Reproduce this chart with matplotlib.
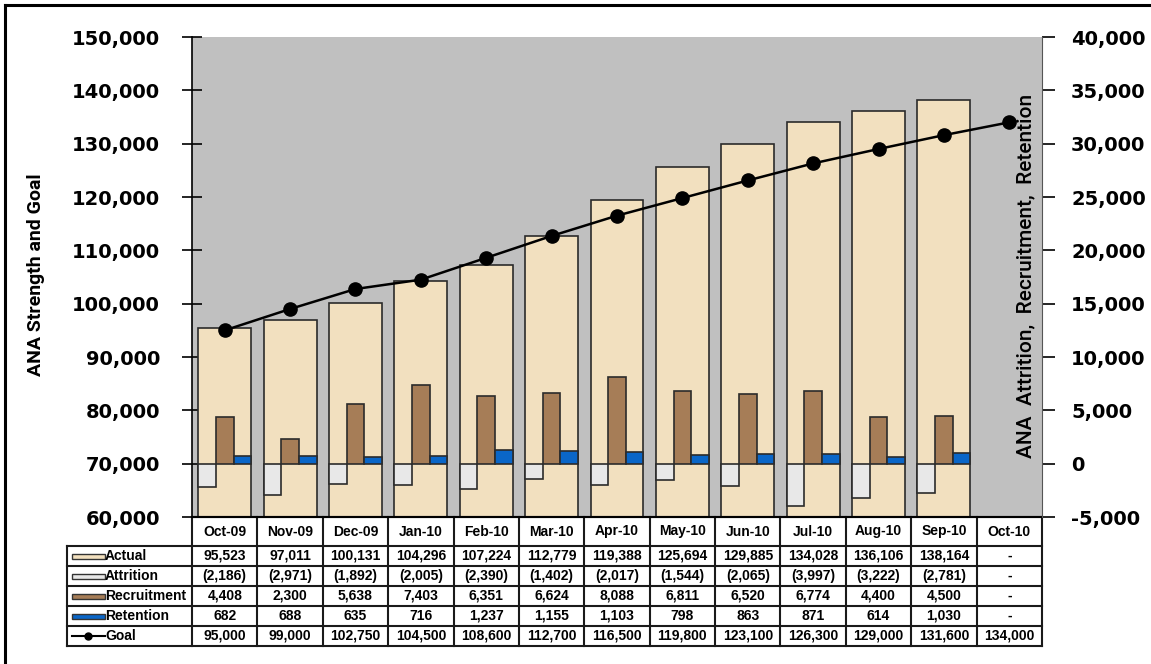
import numpy as np
import matplotlib.pyplot as plt
from matplotlib.lines import Line2D
from matplotlib.patches import Rectangle

months = ['Oct-09', 'Nov-09', 'Dec-09', 'Jan-10', 'Feb-10', 'Mar-10', 'Apr-10',
          'May-10', 'Jun-10', 'Jul-10', 'Aug-10', 'Sep-10', 'Oct-10']
actual = [95523, 97011, 100131, 104296, 107224, 112779, 119388, 125694,
          129885, 134028, 136106, 138164, np.nan]
attrition = [-2186, -2971, -1892, -2005, -2390, -1402, -2017, -1544,
             -2065, -3997, -3222, -2781, np.nan]
recruitment = [4408, 2300, 5638, 7403, 6351, 6624, 8088, 6811,
               6520, 6774, 4400, 4500, np.nan]
retention = [682, 688, 635, 716, 1237, 1155, 1103, 798,
             863, 871, 614, 1030, np.nan]
goal = [95000, 99000, 102750, 104500, 108600, 112700, 116500, 119800,
        123100, 126300, 129000, 131600, 134000]

c_actual = '#F2E0BF'
c_attr = '#E8E8E8'
c_recr = '#A67D57'
c_ret = '#0A66C8'
edge = '#2b2b2b'

W, H = 1151, 664
fig = plt.figure(figsize=(W / 100, H / 100), dpi=100)
ax = fig.add_axes([192 / W, 1 - 517 / H, 850 / W, 480 / H])
ax2 = ax.twinx()

x = np.arange(len(months))
bw = 0.81
ax.set_facecolor('#C0C0C0')
ax.bar(x, actual, width=bw, color=c_actual, edgecolor=edge, linewidth=1.2, zorder=2)
ax.plot(x, goal, color='black', lw=1.8, marker='o', ms=9.5, zorder=4)
ax.set_ylim(60000, 150000)
ax.set_xlim(-0.5, 12.5)
ax.set_yticks(np.arange(60000, 150001, 10000))
ax.yaxis.set_major_formatter(plt.FuncFormatter(lambda v, p: f'{int(v):,}'))
ax.set_xticks([])

sw = bw / 3
ax2.bar(x - sw, attrition, width=sw, color=c_attr, edgecolor=edge, linewidth=1.2)
ax2.bar(x, recruitment, width=sw, color=c_recr, edgecolor=edge, linewidth=1.2)
ax2.bar(x + sw, retention, width=sw, color=c_ret, edgecolor=edge, linewidth=1.2)
ax2.set_ylim(-5000, 40000)
ax2.set_yticks(np.arange(-5000, 40001, 5000))
ax2.yaxis.set_major_formatter(plt.FuncFormatter(lambda v, p: f'{int(v):,}'))

for a in (ax, ax2):
    for lab in a.get_yticklabels():
        lab.set_fontweight('bold')
        lab.set_fontsize(14)
    a.spines['top'].set_visible(False)
ax.tick_params(axis='y', direction='inout', length=14, width=1.2, pad=16)
ax2.tick_params(axis='y', direction='out', length=9, width=1.2, pad=12)
ax2.spines['right'].set_color('#555555')
ax2.spines['left'].set_visible(False)
ax2.spines['bottom'].set_visible(False)
ax.spines['right'].set_visible(False)
ax.spines['left'].set_linewidth(1.2)
ax.spines['bottom'].set_linewidth(1.5)

# data table below the plot
def fmt(v):
    if np.isnan(v):
        return '-'
    if v < 0:
        return f'({-int(v):,})'
    return f'{int(v):,}'

trans = ax.get_xaxis_transform()
ph = 480.0
def yf(px):
    return -px / ph

row_edges = [0, 29, 49, 69, 89, 109, 129]
left = -0.5 - 125 / (850 / 13)
lk = dict(transform=trans, clip_on=False, color='#1a1a1a', lw=1.5)
for i, r in enumerate(row_edges):
    x0 = -0.5 if i == 0 else left
    ax.plot([x0, 12.5], [yf(r), yf(r)], **lk)
for k in range(14):
    ax.plot([k - 0.5, k - 0.5], [yf(0), yf(row_edges[-1])], **lk)
ax.plot([left, left], [yf(row_edges[1]), yf(row_edges[-1])], **lk)

tf = dict(transform=trans, ha='center', va='center', fontsize=10,
          fontweight='bold', family='Liberation Sans', clip_on=False)
for k, m in enumerate(months):
    ax.text(k, yf(14.5), m, **tf)

series = [('Actual', actual), ('Attrition', attrition), ('Recruitment', recruitment),
          ('Retention', retention), ('Goal', goal)]
keycols = [c_actual, c_attr, c_recr, c_ret, None]
ppx = 850 / 13
for j, (name, vals) in enumerate(series):
    yc = (row_edges[j + 1] + row_edges[j + 2]) / 2
    for k, v in enumerate(vals):
        ax.text(k, yf(yc), fmt(v), **tf)
    kx0 = left + 5 / ppx
    kx1 = left + 38 / ppx
    if keycols[j] is not None:
        ax.add_patch(Rectangle((kx0, yf(yc + 2.5)), kx1 - kx0, 5 / ph, transform=trans,
                               facecolor=keycols[j], edgecolor='#333333', lw=1.0, clip_on=False))
    else:
        ax.plot([kx0, kx1], [yf(yc), yf(yc)], transform=trans, clip_on=False,
                color='black', lw=1.5, marker=None)
        ax.plot([(kx0 + kx1) / 2], [yf(yc)], transform=trans, clip_on=False,
                color='black', marker='o', ms=5)
    ax.text(kx1, yf(yc), name, transform=trans, ha='left', va='center', fontsize=10,
            fontweight='bold', family='Liberation Sans', clip_on=False)

fig.text(36 / W, 1 - 275 / H, 'ANA Strength and Goal', rotation=90, ha='center',
         va='center', fontsize=14, fontweight='bold', family='Roboto')
fig.text(1026 / W, 1 - 276 / H, 'ANA  Attrition,  Recruitment,  Retention', rotation=90,
         ha='center', va='center', fontsize=15, fontweight='medium', family='Roboto',
         zorder=10)

fig.add_artist(Line2D([5 / W, 5 / W], [0, 1 - 5 / H], color='black', lw=2.2))
fig.add_artist(Line2D([5 / W, 1], [1 - 5 / H, 1 - 5 / H], color='black', lw=2.2))

fig.savefig('out.png', dpi=100)
